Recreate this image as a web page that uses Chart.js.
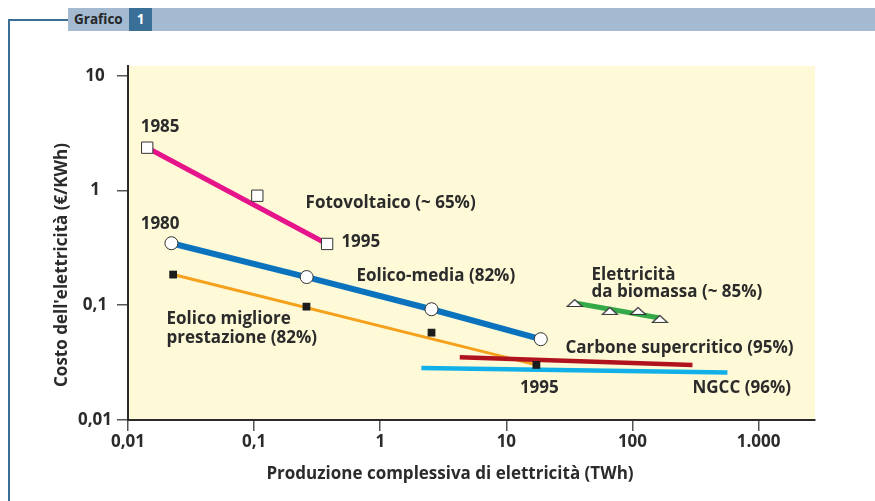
<!DOCTYPE html>
<html>
<head>
<meta charset="utf-8">
<script src="https://cdn.jsdelivr.net/npm/chart.js@4.4.1/dist/chart.umd.min.js"></script>
<style>
  body { margin: 0; background: #fff; }
  #wrap { position: relative; width: 875px; height: 501px; overflow: hidden; font-family: "Open Sans", "Noto Sans", sans-serif; }
  #c { position: absolute; left: 0; top: 0; }
  .fv { position: absolute; left: 8px; top: 19px; width: 2px; height: 482px; background: #3a6e95; }
  .fh { position: absolute; left: 8px; top: 19px; width: 60px; height: 2px; background: #3a6e95; }
  .head { position: absolute; left: 68px; top: 8px; width: 807px; height: 23px; background: #a3bad1; }
  .head span { position: absolute; top: 0; line-height: 23px; font-weight: bold; font-size: 13.5px; }
  .head .t { left: 6px; color: #262626; }
  .head .n { left: 61px; width: 23px; height: 23px; background: #3a6f98; color: #fff; text-align: center; }
</style>
</head>
<body>
<div id="wrap">
  <canvas id="c" width="875" height="501"></canvas>
  <div class="fv"></div>
  <div class="fh"></div>
  <div class="head"><span class="t">Grafico</span><span class="n">1</span></div>
</div>
<script>
// valori (assi logaritmici)
const xTicks = [0.01, 0.1, 1, 10, 100, 1000];
const xTickLabels = ['0,01', '0,1', '1', '10', '100', '1.000'];
const yTicks = [0.01, 0.1, 1, 10];
const yTickLabels = ['0,01', '0,1', '1', '10'];

const fotoX = [0.0142, 0.106, 0.379];
const fotoY = [2.36, 0.90, 0.342];
const eolMediaX = [0.0221, 0.261, 2.55, 18.75];
const eolMediaY = [0.347, 0.176, 0.0923, 0.0506];
const eolMiglX = [0.0228, 0.260, 2.55, 17.3];
const eolMiglY = [0.185, 0.0972, 0.0577, 0.0302];
const biomX = [34.8, 66.1, 110.7, 164.8];
const biomY = [0.1047, 0.0892, 0.0892, 0.0760];
const biomLineaX = [34.8, 164.8];
const biomLineaY = [0.1047, 0.0775];
const carboneX = [4.27, 299];
const carboneY = [0.0352, 0.0302];
const ngccX = [2.12, 566];
const ngccY = [0.0284, 0.0259];

// etichette nel grafico, ancorate in coordinate dei dati (allineate a sinistra)
const etichette = [
  { testo: '1985', x: 0.0126, y: 3.57 },
  { testo: '1980', x: 0.0126, y: 0.511 },
  { testo: 'Fotovoltaico (~ 65%)', x: 0.256, y: 0.774 },
  { testo: '1995', x: 0.492, y: 0.358 },
  { testo: 'Eolico-media (82%)', x: 0.647, y: 0.180 },
  { testo: 'Eolico migliore', x: 0.0202, y: 0.0755 },
  { testo: 'prestazione (82%)', x: 0.0202, y: 0.0516 },
  { testo: 'Elettricità', x: 47.3, y: 0.1836 },
  { testo: 'da biomassa (~ 85%)', x: 47.3, y: 0.1288 },
  { testo: 'Carbone supercritico (95%)', x: 29.4, y: 0.0422 },
  { testo: '1995', x: 12.8, y: 0.0189 },
  { testo: 'NGCC (96%)', x: 299, y: 0.0191 }
];

const FONT = '"Open Sans", "Noto Sans", sans-serif';
const TESTO = '#2b2b2b';

function punti(xs, ys) {
  return xs.map((x, i) => ({ x: x, y: ys[i] }));
}
function estremi(xs, ys) {
  return [{ x: xs[0], y: ys[0] }, { x: xs[xs.length - 1], y: ys[ys.length - 1] }];
}

// triangolo schiacciato per la biomassa
const tri = document.createElement('canvas');
tri.width = 18; tri.height = 10;
const tc = tri.getContext('2d');
tc.beginPath();
tc.moveTo(1.5, 8.5); tc.lineTo(16.5, 8.5); tc.lineTo(9, 1.5); tc.closePath();
tc.fillStyle = '#fff'; tc.fill();
tc.strokeStyle = '#333'; tc.lineWidth = 1.2; tc.stroke();

const sfondo = {
  id: 'sfondo',
  beforeDraw(chart) {
    const a = chart.chartArea, ctx = chart.ctx;
    ctx.save();
    ctx.fillStyle = '#fef9d7';
    ctx.fillRect(a.left, a.top, a.right - a.left, a.bottom - a.top);
    ctx.restore();
  }
};

const testi = {
  id: 'testi',
  afterDraw(chart) {
    const ctx = chart.ctx, sx = chart.scales.x, sy = chart.scales.y, a = chart.chartArea;
    ctx.save();
    ctx.fillStyle = TESTO;
    ctx.font = 'bold 17px ' + FONT;
    ctx.textAlign = 'left';
    ctx.textBaseline = 'middle';
    etichette.forEach(e => {
      ctx.fillText(e.testo, sx.getPixelForValue(e.x), sy.getPixelForValue(e.y));
    });
    // titoli degli assi
    ctx.textAlign = 'center';
    ctx.fillText('Produzione complessiva di elettricità (TWh)', a.left + 322, a.bottom + 54);
    ctx.translate(62, a.top + 199);
    ctx.rotate(-Math.PI / 2);
    ctx.fillText("Costo dell'elettricità (€/KWh)", 0, 0);
    ctx.restore();
  }
};

const ctx = document.getElementById('c').getContext('2d');
new Chart(ctx, {
  type: 'scatter',
  data: {
    datasets: [
      // marcatori
      { data: punti(fotoX, fotoY), pointStyle: 'rect', pointRadius: 8, pointBackgroundColor: '#fff', pointBorderColor: '#333', pointBorderWidth: 1, order: 0 },
      { data: punti(eolMediaX, eolMediaY), pointStyle: 'circle', pointRadius: 6.5, pointBackgroundColor: '#fff', pointBorderColor: '#333', pointBorderWidth: 1, order: 0 },
      { data: punti(eolMiglX, eolMiglY), pointStyle: 'rect', pointRadius: 5.5, pointBackgroundColor: '#1c1c1c', pointBorderColor: '#1c1c1c', pointBorderWidth: 0, order: 0 },
      { data: punti(biomX, biomY), pointStyle: tri, order: 0 },
      // linee
      { data: estremi(fotoX, fotoY), showLine: true, pointRadius: 0, borderColor: '#e5148a', borderWidth: 5, order: 2 },
      { data: punti(eolMediaX, eolMediaY), showLine: true, pointRadius: 0, borderColor: '#0b73bd', borderWidth: 6, order: 2 },
      { data: estremi(eolMiglX, eolMiglY), showLine: true, pointRadius: 0, borderColor: '#f6a11c', borderWidth: 3, order: 3 },
      { data: punti(biomLineaX, biomLineaY), showLine: true, pointRadius: 0, borderColor: '#33a948', borderWidth: 5, order: 2 },
      { data: punti(ngccX, ngccY), showLine: true, pointRadius: 0, borderColor: '#12b0e8', borderWidth: 4.5, order: 2 },
      { data: punti(carboneX, carboneY), showLine: true, pointRadius: 0, borderColor: '#b0121e', borderWidth: 4.5, order: 1 }
    ]
  },
  options: {
    responsive: false,
    animation: false,
    layout: { padding: { top: 66, right: 60, bottom: 0, left: 0 } },
    plugins: { legend: { display: false }, tooltip: { enabled: false } },
    scales: {
      x: {
        type: 'logarithmic',
        min: 0.01,
        max: 2800,
        afterFit: s => { s.height = 81; },
        afterBuildTicks: s => { s.ticks = xTicks.map(v => ({ value: v })); },
        grid: { drawOnChartArea: false, tickLength: 11, color: '#555', lineWidth: 1.5 },
        border: { color: '#2a2a2a', width: 2 },
        ticks: {
          padding: 1, color: TESTO, maxRotation: 0, autoSkip: false,
          font: { family: FONT, size: 17, weight: 'bold' },
          callback: (v, i) => xTickLabels[i]
        }
      },
      y: {
        type: 'logarithmic',
        min: 0.01,
        max: 12.15,
        afterFit: s => { s.width = 128; },
        afterBuildTicks: s => { s.ticks = yTicks.map(v => ({ value: v })); },
        grid: { drawOnChartArea: false, tickLength: 11, color: '#555', lineWidth: 1.5 },
        border: { color: '#2a2a2a', width: 2 },
        ticks: {
          padding: 5, color: TESTO, crossAlign: 'center', autoSkip: false,
          font: { family: FONT, size: 17, weight: 'bold' },
          callback: (v, i) => yTickLabels[i]
        }
      }
    }
  },
  plugins: [sfondo, testi]
});
</script>
</body>
</html>
